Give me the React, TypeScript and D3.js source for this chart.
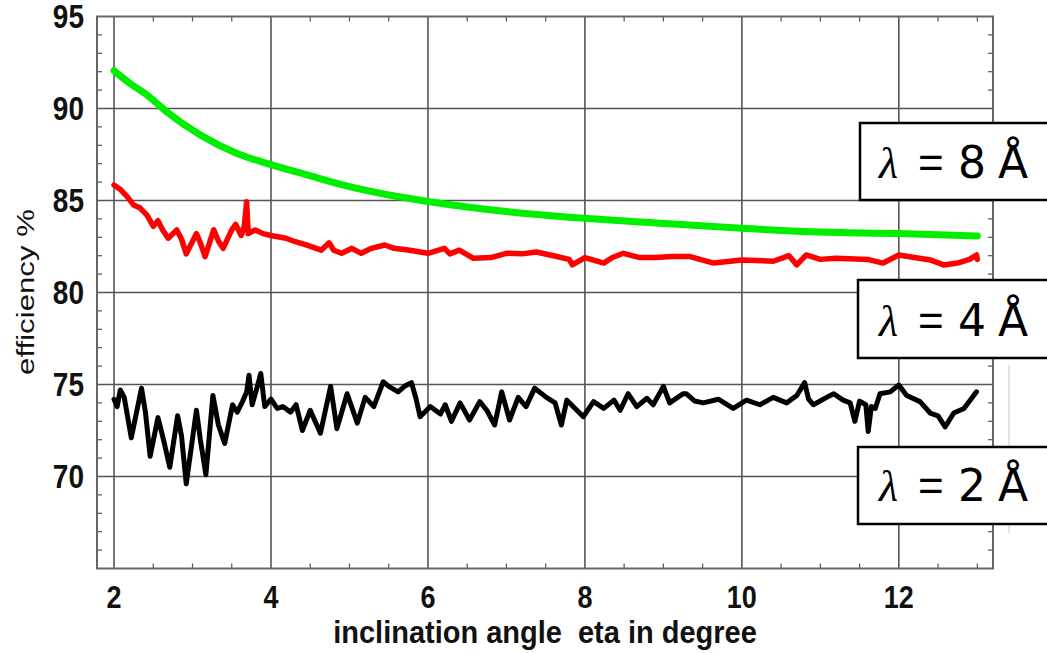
import React from "react";
import * as d3 from "d3";

// ---- data ----
const greenX = [2.0, 2.2, 2.42, 2.67, 3.1, 3.56, 4.0, 4.45, 5.0, 5.5, 6.0, 7.0, 8.0, 9.0, 10.0, 10.9, 12.0, 13.0];
const greenY = [92.05, 91.37, 90.73, 89.83, 88.56, 87.57, 86.95, 86.4, 85.75, 85.3, 84.95, 84.4, 84.03, 83.75, 83.49, 83.3, 83.2, 83.07];

const redX = [2.0, 2.08, 2.17, 2.25, 2.33, 2.42, 2.5, 2.56, 2.62, 2.69, 2.8, 2.86, 2.92, 3.05, 3.1, 3.16, 3.27, 3.33, 3.39, 3.5, 3.55, 3.62, 3.66, 3.69, 3.71, 3.75, 3.8, 3.9, 4.0, 4.19, 4.31, 4.44, 4.64, 4.74, 4.8, 4.9, 5.03, 5.15, 5.28, 5.45, 5.57, 5.77, 6.0, 6.21, 6.28, 6.4, 6.58, 6.8, 7.0, 7.2, 7.38, 7.6, 7.8, 7.84, 8.0, 8.24, 8.35, 8.49, 8.7, 8.9, 9.1, 9.34, 9.64, 10.0, 10.4, 10.6, 10.7, 10.82, 11.0, 11.2, 11.6, 11.8, 12.0, 12.2, 12.4, 12.57, 12.75, 12.9, 12.99, 13.0];
const redY = [85.84, 85.6, 85.2, 84.75, 84.6, 84.2, 83.6, 83.9, 83.4, 82.95, 83.4, 82.9, 82.1, 83.2, 82.7, 81.95, 83.4, 82.8, 82.4, 83.4, 83.7, 83.1, 83.6, 84.93, 83.2, 83.3, 83.4, 83.2, 83.1, 82.95, 82.76, 82.6, 82.3, 82.7, 82.3, 82.13, 82.4, 82.13, 82.4, 82.58, 82.4, 82.3, 82.13, 82.4, 82.1, 82.3, 81.86, 81.9, 82.13, 82.1, 82.2, 82.0, 81.8, 81.5, 81.9, 81.6, 81.9, 82.13, 81.9, 81.9, 81.95, 81.95, 81.6, 81.77, 81.7, 82.0, 81.5, 82.04, 81.8, 81.86, 81.8, 81.6, 82.04, 81.9, 81.77, 81.5, 81.6, 81.8, 82.04, 81.8];

const blackX = [2.0, 2.04, 2.08, 2.13, 2.22, 2.35, 2.4, 2.46, 2.56, 2.63, 2.71, 2.81, 2.86, 2.92, 3.05, 3.1, 3.17, 3.26, 3.33, 3.41, 3.51, 3.57, 3.64, 3.69, 3.72, 3.76, 3.82, 3.87, 3.92, 4.0, 4.08, 4.15, 4.25, 4.32, 4.4, 4.5, 4.63, 4.76, 4.84, 4.97, 5.1, 5.2, 5.31, 5.43, 5.5, 5.62, 5.7, 5.79, 5.85, 5.9, 6.03, 6.16, 6.22, 6.3, 6.41, 6.53, 6.66, 6.75, 6.85, 6.94, 7.04, 7.15, 7.25, 7.36, 7.51, 7.62, 7.7, 7.77, 7.98, 8.11, 8.24, 8.37, 8.45, 8.55, 8.66, 8.79, 8.87, 9.0, 9.08, 9.25, 9.29, 9.4, 9.51, 9.7, 9.89, 10.06, 10.23, 10.4, 10.57, 10.7, 10.8, 10.85, 10.91, 11.08, 11.17, 11.29, 11.38, 11.44, 11.5, 11.58, 11.61, 11.65, 11.7, 11.76, 11.89, 12.0, 12.1, 12.27, 12.4, 12.5, 12.59, 12.7, 12.83, 12.99];
const blackY = [74.2, 73.8, 74.7, 74.3, 72.1, 74.8, 73.5, 71.1, 73.2, 72.0, 70.5, 73.3, 72.2, 69.6, 73.6, 72.0, 70.1, 74.4, 72.8, 71.8, 73.9, 73.5, 74.1, 74.6, 75.5, 73.9, 74.8, 75.6, 73.8, 74.2, 73.7, 73.8, 73.5, 73.9, 72.5, 73.6, 72.35, 74.9, 72.6, 74.5, 72.9, 74.3, 73.8, 75.15, 74.9, 74.6, 74.9, 75.1, 74.2, 73.25, 73.8, 73.4, 73.9, 73.0, 74.0, 73.07, 74.07, 73.6, 72.8, 74.6, 73.07, 74.3, 73.8, 74.8, 74.3, 74.0, 72.8, 74.15, 73.25, 74.07, 73.7, 74.15, 73.6, 74.5, 73.8, 74.25, 73.9, 74.9, 74.0, 74.5, 74.5, 74.1, 74.0, 74.2, 73.7, 74.15, 73.9, 74.3, 74.0, 74.4, 75.1, 74.2, 73.9, 74.3, 74.5, 74.15, 74.0, 73.0, 74.1, 73.9, 72.45, 73.8, 73.7, 74.5, 74.6, 74.97, 74.4, 74.07, 73.45, 73.3, 72.7, 73.45, 73.7, 74.6];

const xTicks = [2, 4, 6, 8, 10, 12];
const yTicks = [70, 75, 80, 85, 90, 95];
const legendWavelengths = ["8", "4", "2"];

const W = 1047;
const H = 653;
const L = 97, R = 993, T = 16.5, B = 568.5;

export default function App() {
  const x = d3.scaleLinear().domain([1.783, 13.2]).range([L, R]);
  const y = d3.scaleLinear().domain([65, 95]).range([B, T]);

  const mk = (xs: number[], ys: number[], curve: any) =>
    d3.line<number>().x((_, i) => x(xs[i])).y((v) => y(v)).curve(curve)(ys) || "";

  const greenPath = mk(greenX, greenY, d3.curveMonotoneX);
  const redPath = mk(redX, redY, d3.curveLinear);
  const blackPath = mk(blackX, blackY, d3.curveLinear);

  const xMinor = d3.range(2.5, 13.01, 0.5).filter((v) => Math.abs(v / 2 - Math.round(v / 2)) > 1e-6 || v > 12.5);
  const yMinor = d3.range(66, 95, 1).filter((v) => v % 5 !== 0);

  const grid = "#555";
  const boxes = [
    { x: 860, y: 123, h: 77, base: 178 },
    { x: 858, y: 280, h: 78, base: 336 },
    { x: 858, y: 447, h: 77, base: 501 },
  ];

  return (
    <svg width={W} height={H} style={{ position: "absolute", left: 0, top: 0, background: "#fff" }}>
      <rect x={0} y={0} width={W} height={H} fill="#fff" />
      {/* grid */}
      {xTicks.map((t) => (
        <line key={"gx" + t} x1={x(t)} x2={x(t)} y1={T} y2={B} stroke={grid} strokeWidth={1.6} />
      ))}
      {yTicks.filter((t) => t < 95).map((t) => (
        <line key={"gy" + t} x1={L} x2={R} y1={y(t)} y2={y(t)} stroke={grid} strokeWidth={1.6} />
      ))}
      {/* minor ticks */}
      {xMinor.map((t) => (
        <g key={"mx" + t}>
          <line x1={x(t)} x2={x(t)} y1={B} y2={B - 5} stroke={grid} strokeWidth={1.2} />
          <line x1={x(t)} x2={x(t)} y1={T} y2={T + 5} stroke={grid} strokeWidth={1.2} />
        </g>
      ))}
      {yMinor.map((t) => (
        <g key={"my" + t}>
          <line x1={L} x2={L + 5} y1={y(t)} y2={y(t)} stroke={grid} strokeWidth={1.2} />
          <line x1={R} x2={R - 5} y1={y(t)} y2={y(t)} stroke={grid} strokeWidth={1.2} />
        </g>
      ))}
      <rect x={L} y={T} width={R - L} height={B - T} fill="none" stroke="#666" strokeWidth={2} />

      {/* series */}
      <path d={greenPath} fill="none" stroke="#00ee00" strokeWidth={7} strokeLinejoin="round" strokeLinecap="round" />
      <path d={redPath} fill="none" stroke="#ff0000" strokeWidth={5.5} strokeLinejoin="round" strokeLinecap="round" />
      <path d={blackPath} fill="none" stroke="#000" strokeWidth={5} strokeLinejoin="round" strokeLinecap="round" />

      {/* y tick labels */}
      {yTicks.map((t) => (
        <text key={"yl" + t} transform={`translate(84,${y(t)}) scale(1,1.18)`} textAnchor="end" dy="0.36em"
          fontFamily="'Liberation Sans', Arial, sans-serif" fontWeight="bold" fontSize={28} fill="#111">
          {t}
        </text>
      ))}
      {/* x tick labels */}
      {xTicks.map((t) => (
        <text key={"xl" + t} transform={`translate(${x(t)},608) scale(1,1.15)`} textAnchor="middle"
          fontFamily="'Liberation Sans', Arial, sans-serif" fontWeight="bold" fontSize={27} fill="#111">
          {t}
        </text>
      ))}
      <text transform={`translate(${(L + R) / 2},643) scale(1,1.1)`} textAnchor="middle"
        fontFamily="'Liberation Sans', Arial, sans-serif" fontWeight="bold" fontSize={29} fill="#111"
        style={{ whiteSpace: "pre" }}>
        {"inclination angle  eta in degree"}
      </text>
      <text transform={`translate(34,292) rotate(-90) scale(1.3,1)`} textAnchor="middle"
        fontFamily="'Liberation Sans', Arial, sans-serif" fontSize={24} fill="#111">
        efficiency %
      </text>

      {/* faint line at right */}
      <line x1={1009} x2={1009} y1={365} y2={533} stroke="#c8c8c8" strokeWidth={1} />

      {/* legend boxes */}
      {boxes.map((b, i) => (
        <g key={"lg" + i}>
          <rect x={b.x} y={b.y} width={220} height={b.h} fill="#fff" stroke="#000" strokeWidth={2.5} />
          <text y={b.base} fontSize={44} fill="#000">
            <tspan x={879} fontFamily="'Liberation Serif', 'Times New Roman', serif" fontStyle="italic">λ</tspan>
            <tspan x={918} fontFamily="'Liberation Sans', Arial, sans-serif">=</tspan>
            <tspan x={958} fontFamily="'DejaVu Sans', sans-serif">{legendWavelengths[i]}</tspan>
            <tspan x={998} fontFamily="'DejaVu Sans', sans-serif">Å</tspan>
          </text>
        </g>
      ))}
    </svg>
  );
}
